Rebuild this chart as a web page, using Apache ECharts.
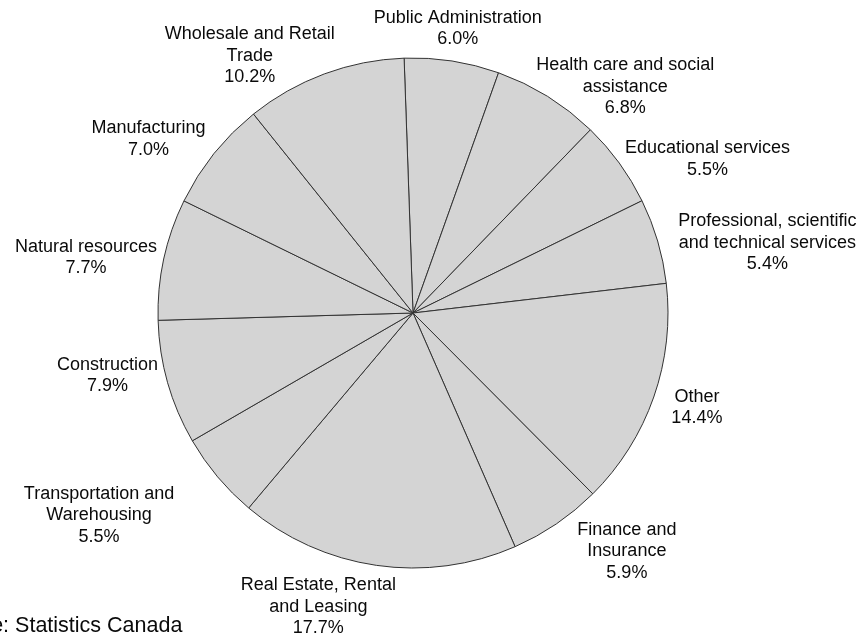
<!DOCTYPE html>
<html>
<head>
<meta charset="utf-8">
<script src="https://cdn.jsdelivr.net/npm/echarts@6/dist/echarts.min.js"></script>
<style>
  html, body { margin: 0; padding: 0; background: #ffffff; }
  #chart { width: 864px; height: 636px; }
</style>
</head>
<body>
<div id="chart"></div>
<script>
// Share of businesses by industry, clockwise from the top
const categories = [
  'Public Administration',
  'Health care and social\nassistance',
  'Educational services',
  'Professional, scientific\nand technical services',
  'Other',
  'Finance and\nInsurance',
  'Real Estate, Rental\nand Leasing',
  'Transportation and\nWarehousing',
  'Construction',
  'Natural resources',
  'Manufacturing',
  'Wholesale and Retail\nTrade'
];
const shares = [6.0, 6.8, 5.5, 5.4, 14.4, 5.9, 17.7, 5.5, 7.9, 7.7, 7.0, 10.2];
const sourceNote = 'Source: Statistics Canada';

const CX = 413, CY = 313, R = 255, START = 92, GAP = 7;

// Hand placement of each label block, in pixels, relative to its default spot
const labelNudge = [
  [4, -4], [-15, 7], [0, 0], [14, 4], [11, 8], [17, 16],
  [-57, 2], [-38, 34], [-3, -9], [0, 0], [-3, -10], [-24, 18]
];

const total = shares.reduce((a, b) => a + b, 0);
const cumulative = [];
shares.reduce((acc, v, i) => { cumulative[i] = acc; return acc + v; }, 0);

// Direction of each slice's middle, in screen coordinates
function midDir(i) {
  const a = (START - 360 * (cumulative[i] + shares[i] / 2) / total) * Math.PI / 180;
  return [Math.cos(a), -Math.sin(a)];
}
const clamp01 = v => Math.max(0, Math.min(1, v));

const chart = echarts.init(document.getElementById('chart'), null, { renderer: 'canvas' });
chart.setOption({
  animation: false,
  backgroundColor: '#ffffff',
  textStyle: { fontFamily: 'Liberation Sans, Arial, sans-serif' },
  series: [{
    type: 'pie',
    center: [CX, CY],
    radius: R,
    startAngle: START,
    clockwise: true,
    avoidLabelOverlap: false,
    silent: true,
    itemStyle: { color: '#d4d4d4', borderColor: '#333333', borderWidth: 1 },
    label: {
      show: true,
      position: 'outside',
      color: '#0a0a0a',
      fontSize: 18,
      lineHeight: 21.5,
      fontFamily: 'Liberation Sans, Arial, sans-serif',
      formatter: p => p.name + '\n' + p.value.toFixed(1) + '%'
    },
    labelLine: { show: false },
    // Text block sits just outside the rim: beside the slice on the left and
    // right, above or below it near the top and bottom of the pie.
    labelLayout: function (params) {
      const i = params.dataIndex;
      const [ux, uy] = midDir(i);
      const w = params.labelRect.width, h = params.labelRect.height;
      const ax = CX + (R + GAP) * ux, ay = CY + (R + GAP) * uy;
      const fx = clamp01((Math.abs(ux) - 0.15) / 0.35);
      const fy = clamp01((Math.abs(uy) - 0.8) / 0.15);
      return {
        x: ax + Math.sign(ux) * (w / 2) * fx + labelNudge[i][0],
        y: ay + Math.sign(uy) * (h / 2) * fy + labelNudge[i][1],
        align: 'center',
        verticalAlign: 'middle'
      };
    },
    data: categories.map((name, i) => ({ name: name, value: shares[i] }))
  }],
  graphic: [{
    type: 'text',
    left: -65,
    bottom: -1,
    style: { text: sourceNote, fontSize: 21.5, fill: '#0a0a0a', fontFamily: 'Liberation Sans, Arial, sans-serif' }
  }]
});
</script>
</body>
</html>
